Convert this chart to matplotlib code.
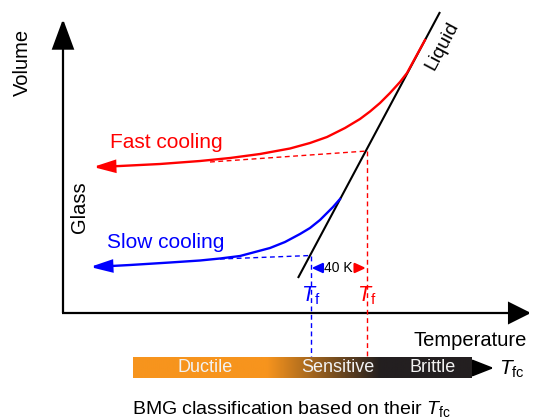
import numpy as np
import matplotlib
matplotlib.use("Agg")
import matplotlib.pyplot as plt
from matplotlib.patches import FancyArrowPatch
from matplotlib.colors import LinearSegmentedColormap

plt.rcParams['font.family'] = ['Liberation Sans', 'DejaVu Sans']
plt.rcParams['mathtext.fontset'] = 'custom'
plt.rcParams['mathtext.rm'] = 'Liberation Sans'
plt.rcParams['mathtext.it'] = 'Liberation Sans:italic'

# ---- data (schematic, in picture coordinates) ----
liquid_x = [298, 440]
liquid_y = [278, 12]
fast_x = [425, 407, 400, 390, 380, 370, 360, 345, 327, 310, 290, 260, 230, 200, 160, 120, 106]
fast_y = [40, 73, 82, 93, 103, 111.5, 119, 128, 137, 143, 148.5, 154, 158, 161, 164, 166, 166.6]
slow_x = [340, 333, 325, 320, 310, 300, 285, 270, 255, 240, 220, 200, 170, 130, 104]
slow_y = [199, 207, 215, 220, 228, 234, 242, 248, 252, 256, 258.5, 260.5, 262.5, 265, 266.4]
fast_tangent_x = [210, 367]
fast_tangent_y = [162, 151]
slow_tangent_x = [220, 311]
slow_tangent_y = [259, 255.5]
tf_fast = 367
tf_slow = 311
classes = ["Ductile", "Sensitive", "Brittle"]
class_x = [205, 338, 433]

RED = "#ff0000"
BLUE = "#0000ff"
ORANGE = "#f7941d"
DARK = "#231f20"

fig = plt.figure(figsize=(5.34, 4.2), dpi=100)
ax = fig.add_axes([0, 0, 1, 1])
ax.set_xlim(0, 534)
ax.set_ylim(420, 0)
ax.axis('off')


def arrow(p0, p1, color, hl, hw, lw, ls='-'):
    a = FancyArrowPatch(p0, p1, arrowstyle=f'-|>,head_length={hl},head_width={hw}',
                        mutation_scale=1, color=color, lw=lw, shrinkA=0, shrinkB=0,
                        linestyle=ls, joinstyle='miter', capstyle='butt')
    ax.add_patch(a)

# axes
arrow((63, 313), (63, 19), 'black', 19, 7, 1.6)
arrow((62, 313), (531, 313), 'black', 14, 7, 1.6)

# liquid line
ax.plot(liquid_x, liquid_y, color='black', lw=1.5, solid_capstyle='butt')

# cooling curves
ax.plot(fast_x, fast_y, color=RED, lw=1.7, solid_joinstyle='round')
arrow((fast_x[-1], fast_y[-1]), (93, 167), RED, 13, 3.8, 1.7)
ax.plot(slow_x, slow_y, color=BLUE, lw=1.7, solid_joinstyle='round')
arrow((slow_x[-1], slow_y[-1]), (90, 267), BLUE, 13, 3.8, 1.7)

# tangents & fictive temperatures
dash = (0, (3.5, 2.5))
ax.plot(fast_tangent_x, fast_tangent_y, color=RED, lw=1.0, linestyle=dash)
ax.plot(slow_tangent_x, slow_tangent_y, color=BLUE, lw=1.0, linestyle=dash)
ax.plot([tf_fast, tf_fast], [fast_tangent_y[-1], 360], color=RED, lw=1.0, linestyle=dash)
ax.plot([tf_slow, tf_slow], [slow_tangent_y[-1], 360], color=BLUE, lw=1.0, linestyle=dash)

# 40 K marker
arrow((323, 268), (311.5, 268), BLUE, 7, 3.2, 1.2)
arrow((354, 268), (366, 268), RED, 7, 3.2, 1.2)
ax.text(338.5, 268, "40 K", ha='center', va='center', fontsize=10)

ax.text(tf_slow, 296, r"$T_{\mathrm{f}}$", color=BLUE, ha='center', va='center', fontsize=15.5)
ax.text(tf_fast, 296, r"$T_{\mathrm{f}}$", color=RED, ha='center', va='center', fontsize=15.5)

# labels
ax.text(22, 62, "Volume", rotation=90, ha='center', va='center', fontsize=14.5)
ax.text(80, 207, "Glass", rotation=90, ha='center', va='center', fontsize=14.5)
ax.text(470, 340, "Temperature", ha='center', va='center', fontsize=14.5)
ax.text(110, 148, "Fast cooling", color=RED, ha='left', va='baseline', fontsize=15)
ax.text(107, 248, "Slow cooling", color=BLUE, ha='left', va='baseline', fontsize=15)
ax.text(442, 46, "Liquid", rotation=62, ha='center', va='center', fontsize=14,
        rotation_mode='anchor')

# classification bar
cmap = LinearSegmentedColormap.from_list(
    'bmg', [(0, ORANGE), (0.395, ORANGE), (0.73, DARK), (1, DARK)])
grad = np.linspace(0, 1, 512)[None, :]
ax.imshow(grad, cmap=cmap, extent=[133, 472, 378, 357], aspect='auto', zorder=2)
ax.set_xlim(0, 534)
ax.set_ylim(420, 0)
for name, cx in zip(classes, class_x):
    ax.text(cx, 368, name, color='#f2f2f2', ha='center', va='center', fontsize=13, zorder=3)
arrow((471, 368), (494, 368), 'black', 14, 5.5, 1.2)
ax.text(499, 375, r"$T_{\mathrm{fc}}$", ha='left', va='baseline', fontsize=15)

ax.text(132, 414, r"BMG classification based on their $T_{\mathrm{fc}}$",
        ha='left', va='baseline', fontsize=14)

fig.savefig("out.png", dpi=100)
